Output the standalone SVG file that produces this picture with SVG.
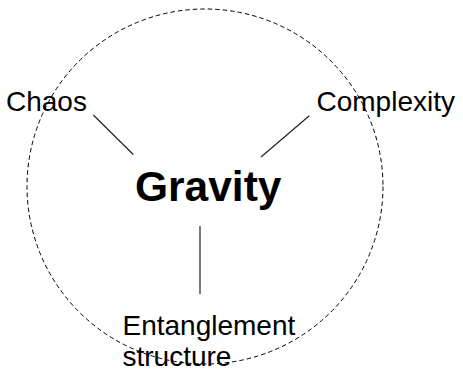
<svg xmlns="http://www.w3.org/2000/svg" width="463" height="370" viewBox="0 0 463 370">
<style>
.lbl{font-family:"Liberation Sans",Arial,Helvetica,sans-serif;font-size:28px;fill:#000}
.main{font-family:"Liberation Sans",Arial,Helvetica,sans-serif;font-size:42.5px;font-weight:bold;fill:#000}
.conn line{stroke:#222;stroke-width:1.2}
.ring{fill:none;stroke:#000;stroke-width:1;stroke-dasharray:4.5 3}
</style>
<rect width="463" height="370" fill="#fff"/>
<ellipse class="ring" cx="205" cy="186.5" rx="178" ry="177.5"/>
<g id="connectors" class="conn">
<line x1="93.3" y1="115" x2="133.3" y2="154.5"/>
<line x1="309.3" y1="115.7" x2="261" y2="157"/>
<line x1="200" y1="226" x2="200" y2="294.3"/>
</g>
<g id="gravity"><text class="main" x="135" y="201">Gravity</text></g>
<g id="chaos"><text class="lbl" x="6" y="110.5">Chaos</text></g>
<g id="complexity"><text class="lbl" x="316.5" y="111">Complexity</text></g>
<g id="entanglement"><text class="lbl" x="122.5" y="334.5">Entanglement<tspan x="122.5" dy="31">structure</tspan></text></g>
</svg>
